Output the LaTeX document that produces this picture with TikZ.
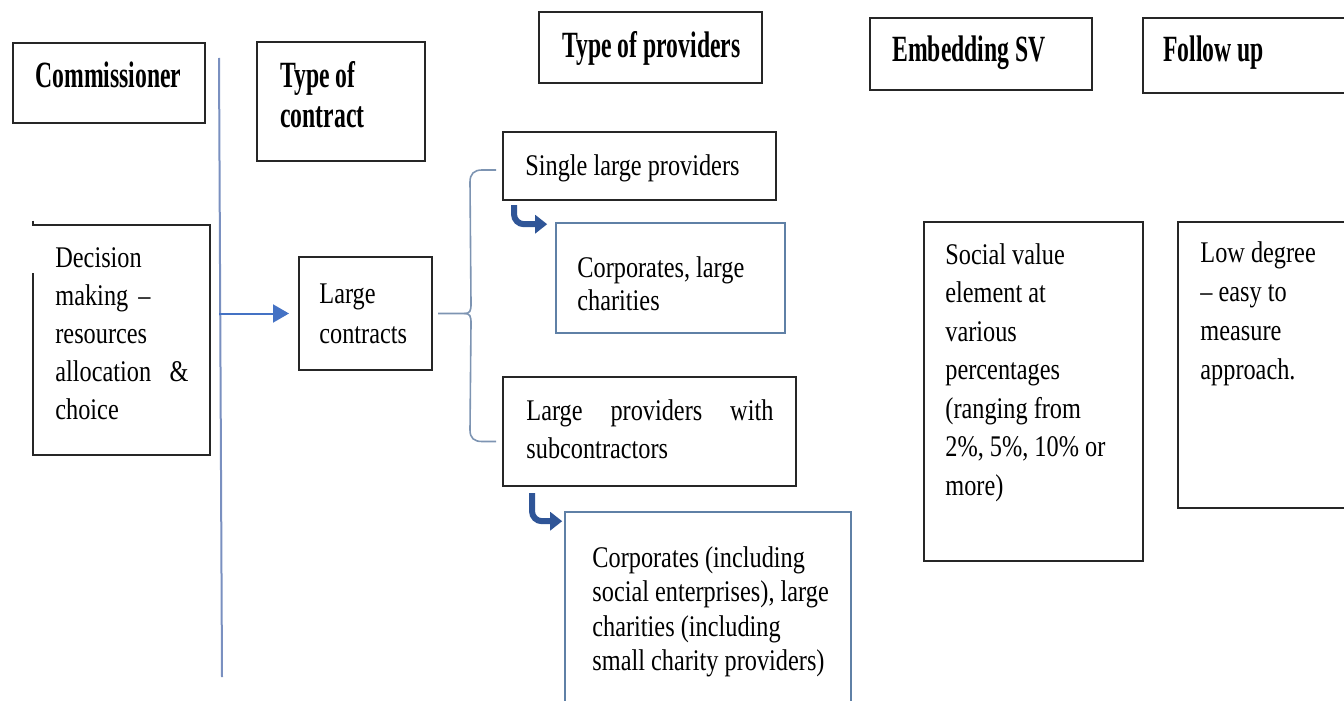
\documentclass[tikz,border=0pt]{standalone}
\usepackage{fontspec}
\setmainfont{Liberation Serif}
\newfontfamily\headfam{Liberation Serif}[FakeStretch=0.64,Ligatures=TeX]
\newfontfamily\bodyfam{Liberation Serif}[FakeStretch=0.81,Ligatures=TeX]
\usepackage{tikz}
\usetikzlibrary{arrows.meta,calc,fit}

\definecolor{lineblue}{RGB}{122,144,192}
\definecolor{arrowblue}{RGB}{68,114,196}
\definecolor{hookblue}{RGB}{47,85,151}
\definecolor{bracegray}{RGB}{125,148,178}
\definecolor{subblue}{RGB}{95,128,166}

\tikzset{
  box/.style={draw=black!85, line width=1pt, inner sep=0pt},
  subbox/.style={draw=subblue, line width=0.8pt, inner sep=0pt},
  head/.style={font=\headfam\bfseries\fontsize{18.5}{20}\selectfont,
    anchor=base west, inner sep=0pt, align=left},
  body/.style={font=\bodyfam\fontsize{15}{19}\selectfont,
    anchor=north west, inner sep=0pt, align=left},
  hook/.style={draw=hookblue, line width=3pt, rounded corners=5pt,
    -{Triangle[length=6pt,width=9pt]}},
}

\begin{document}
\begin{tikzpicture}[x=0.5pt,y=-0.5pt]
  \useasboundingbox (0,0) rectangle (1344,701);

  % headers
  \node[box, fit={(13,43) (205,123)}] (comm) {};
  \node[head] (commtxt) at (35,88) {Commissioner};
  \node[box, fit={(257,42) (425,161)}] (contract) {};
  \node[head] (contracttxt) at (280,127) {Type of\\contract};
  \node[box, fit={(539,12) (762,83)}] (provtype) {};
  \node[head] (provtypetxt) at (562,58) {Type of providers};
  \node[box, fit={(870,18) (1092,90)}] (embed) {};
  \node[head] (embedtxt) at (892,62) {Embedding SV};
  \node[box, fit={(1143,18) (1352,93)}] (follow) {};
  \node[head] (followtxt) at (1163,62) {Follow up};

  % commissioner column
  \coordinate (vtop) at (219,58);
  \coordinate (vbot) at (222,677);
  \draw[lineblue, line width=1pt] (vtop) -- (vbot);
  \node[inner sep=0pt, fit={(33,225) (210,455)}] (decision) {};
  \draw[line width=1pt, black!85] ($(decision.north west)+(0,-4)$) -- (decision.north west)
    -- (decision.north east) -- (decision.south east) -- (decision.south west)
    -- ($(decision.south west)+(0,-182)$);
  \node[body, text width=66.5pt] (decisiontxt) at (55,247)
    {Decision\\making --\\resources\\allocation\hfill\&\\choice};

  % contract
  \node[box, fit={(299,257) (432,370)}] (large) {};
  \node[body] (largetxt) at (319,283) {Large\\[1pt]contracts};
  \draw[arrowblue, line width=1pt, -{Triangle[length=8pt,width=9pt]}, shorten >=4.5pt]
    (vtop |- large.west) -- (large.west);

  % providers
  \node[box, fit={(503,132) (776,200)}] (single) {};
  \node[body] (singletxt) at (525,154) {Single large providers};
  \node[subbox, fit={(556,223) (785,333)}] (corpone) {};
  \node[body, font=\bodyfam\fontsize{15}{16.5}\selectfont] (corponetxt) at (577,256)
    {Corporates, large\\charities};
  \node[box, fit={(503,377) (796,486)}] (withsub) {};
  \node[body, text width=123.5pt] (withsubtxt) at (526,399)
    {Large\hfill providers\hfill with\\subcontractors};
  \node[subbox, fit={(565,512) (851,712)}] (corptwo) {};
  \node[body, font=\bodyfam\fontsize{15}{17.2}\selectfont] (corptwotxt) at (592,546)
    {Corporates (including\\social enterprises), large\\charities (including\\small charity providers)};

  % brace
  \draw[bracegray, line width=0.8pt] (large.east) ++(5,0) -- ++(26,0)
    .. controls ++(6,0) and ++(0,8) .. ++(7,-10) -- (470,182)
    .. controls ++(0,-8) and ++(-8,0) .. ($(single.west)+(-20,4)$) -- ($(single.west)+(-6,4)$);
  \draw[bracegray, line width=0.8pt] ($(large.east)+(31,0)$)
    .. controls ++(6,0) and ++(0,-8) .. ++(7,10) -- (470,430)
    .. controls ++(0,8) and ++(-8,0) .. ($(withsub.west)+(-20,10)$) -- ($(withsub.west)+(-6,10)$);

  % hook arrows
  \draw[hook] ($(single.south west)+(12,4)$) |- ($(corpone.north west)+(-8,2)$);
  \draw[hook] ($(withsub.south west)+(30,6)$) |- ($(corptwo.north west)+(-2,10)$);

  % social value and follow up
  \node[box, fit={(924,222) (1143,561)}] (socval) {};
  \node[body, font=\bodyfam\fontsize{15}{19.25}\selectfont] (socvaltxt) at (945,243)
    {Social value\\element at\\various\\percentages\\(ranging from\\2\%, 5\%, 10\% or\\more)};
  \node[box, fit={(1178,222) (1352,508)}] (lowdeg) {};
  \node[body, font=\bodyfam\fontsize{15}{19.5}\selectfont] (lowdegtxt) at (1200,241)
    {Low degree\\-- easy to\\measure\\approach.};
\end{tikzpicture}
\end{document}
